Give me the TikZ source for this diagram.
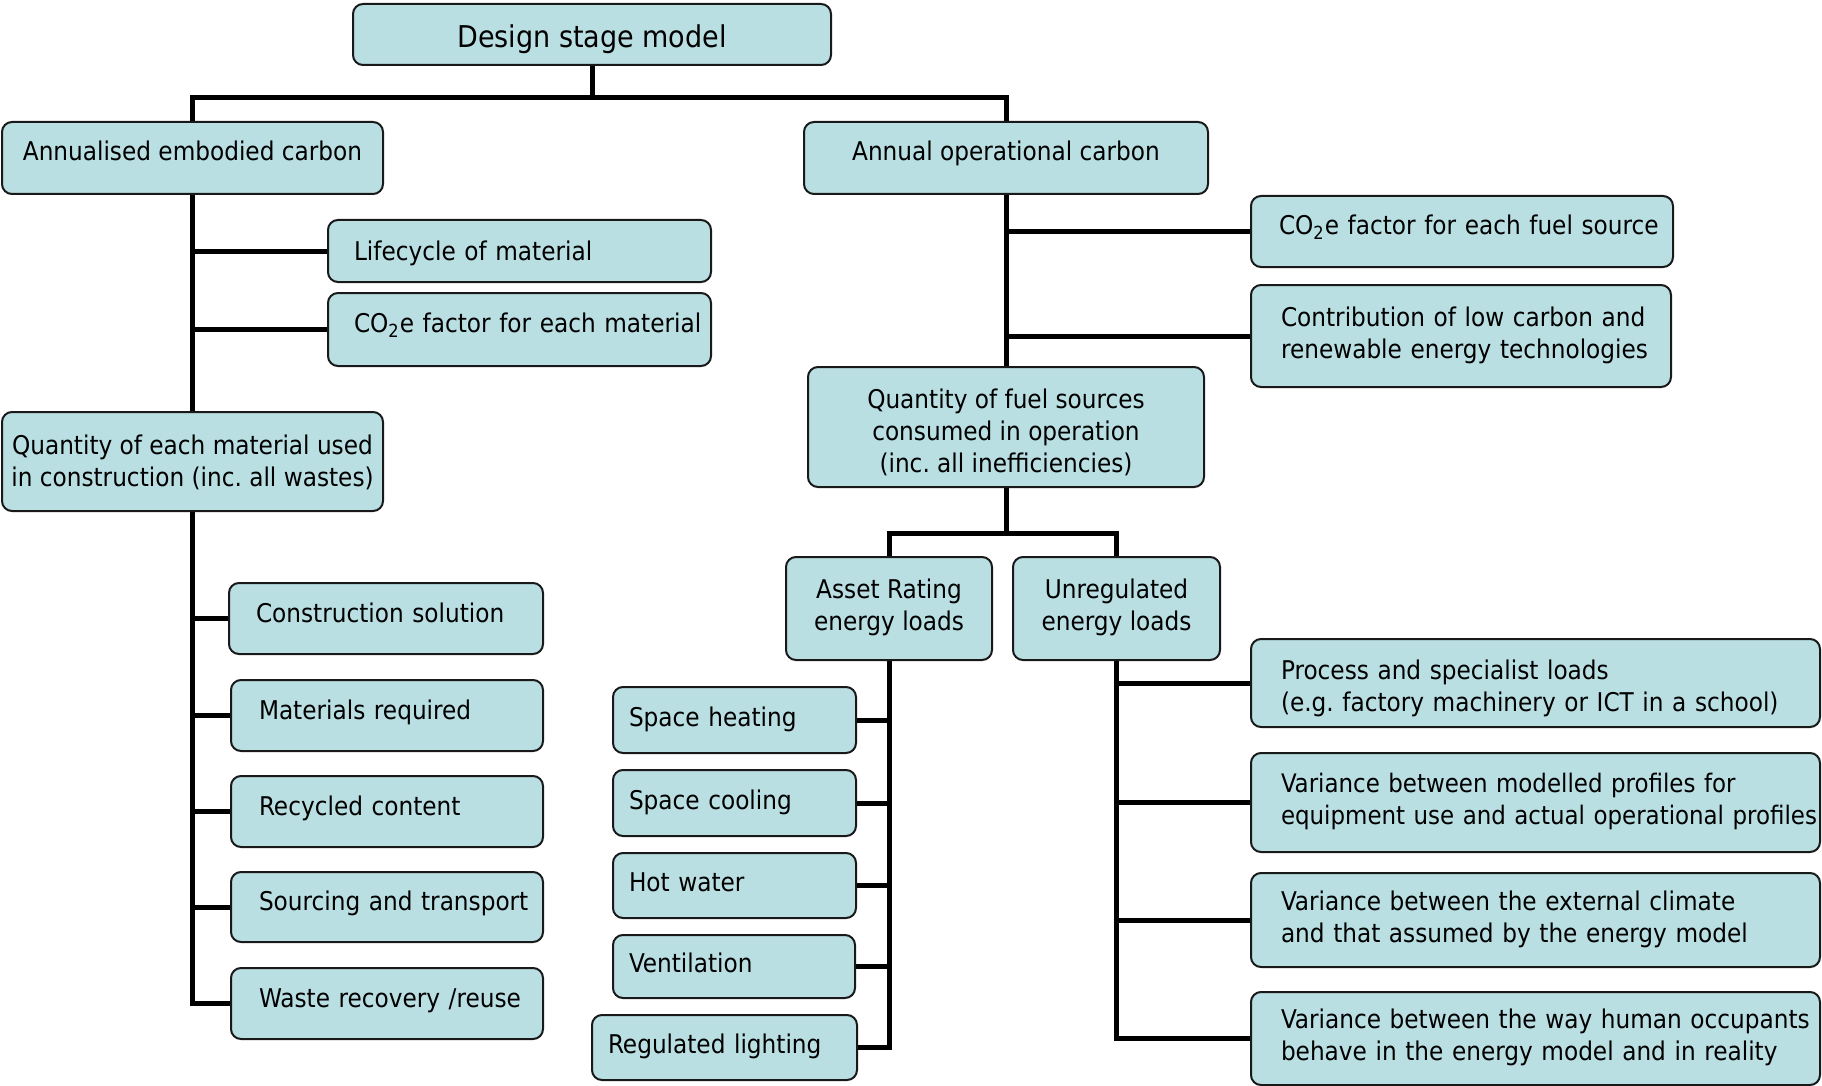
\documentclass[tikz,border=0pt]{standalone}
\usepackage{fontspec}
\setmainfont{DejaVu Sans Condensed}
\usetikzlibrary{backgrounds}

\definecolor{boxfill}{RGB}{185,223,227}
\definecolor{boxline}{RGB}{25,25,25}

% stacked lines of text, set as one unbreakable block
\newcommand\lines[2][l]{\begin{tabular}{@{}#1@{}}#2\end{tabular}}

% centred box: [options]{name}{x1}{y1}{x2}{y2}{text}
\newcommand\cbox[7][]{%
  \pgfmathsetmacro\boxW{(#5-#3)/2}%
  \pgfmathsetmacro\boxH{(#6-#4)/2}%
  \node[box,inner xsep=0pt,minimum width=\boxW pt,minimum height=\boxH pt,#1]
    (#2) at ({(#3+#5)/2},{(#4+#6)/2}) {\lines[c]{#7}};}

% box with left-set text: [options]{name}{x1}{y1}{x2}{y2}{left padding}{text}
\newcommand\lbox[8][]{%
  \pgfmathsetmacro\boxW{(#5-#3)/2}%
  \pgfmathsetmacro\boxH{(#6-#4)/2}%
  \pgfmathsetmacro\txtW{\boxW-#7}%
  \pgfmathsetmacro\padX{#7/2}%
  \node[box,align=left,inner xsep=\padX pt,text width=\txtW pt,minimum width=\boxW pt,minimum height=\boxH pt,#1]
    (#2) at ({(#3+#5)/2},{(#4+#6)/2}) {\lines{#8}};}

\newcommand\COtwo{CO\textsubscript{2}e}

\begin{document}
\frenchspacing
\begin{tikzpicture}[x=0.5pt,y=-0.5pt,
  box/.style={draw=boxline,line width=1pt,fill=boxfill,rounded corners=5pt,
    inner ysep=0pt,font=\fontsize{12.9}{16}\selectfont},
  % text height / depth of the text block, to set it higher or lower in its box
  textbox/.style 2 args={text height=#1,text depth=#2},
  link/.style={line width=2.5pt,draw=black}]

\useasboundingbox (0,0) rectangle (1822,1086);

% top of the tree
\cbox[font=\fontsize{15}{18}\selectfont,textbox={18.5pt}{5.25pt}]{dsm}{353}{4}{831}{65}{Design stage model}
\cbox[textbox={11.2pt}{8.8pt}]{emb}{2}{122}{383}{194}{Annualised embodied carbon}
\cbox[textbox={11.2pt}{8.8pt}]{op}{804}{122}{1208}{194}{Annual operational carbon}

% embodied carbon branch
\lbox[textbox={13.6pt}{4.8pt}]{lc}{328}{220}{711}{282}{26}{Lifecycle of material}
\lbox[textbox={11.2pt}{8.8pt}]{cm}{328}{293}{711}{366}{26}{\COtwo{} factor for each material}
\cbox[textbox={21.2pt}{12.8pt}]{qm}{2}{412}{383}{511}{Quantity of each material used\\in construction (inc. all wastes)}
\lbox[textbox={11.2pt}{7.8pt}]{cs}{229}{583}{543}{654}{27}{Construction solution}
\lbox[textbox={11.2pt}{7.8pt}]{mr}{231}{680}{543}{751}{28}{Materials required}
\lbox[textbox={11.2pt}{7.8pt}]{rc}{231}{776}{543}{847}{28}{Recycled content}
\lbox[textbox={11.2pt}{7.8pt}]{st}{231}{872}{543}{942}{28}{Sourcing and transport}
\lbox[textbox={11.2pt}{7.8pt}]{wr}{231}{968}{543}{1039}{28}{Waste recovery /reuse}

% operational carbon branch
\lbox[textbox={11.2pt}{8.8pt}]{cf}{1251}{196}{1673}{267}{28}{\COtwo{} factor for each fuel source}
\lbox{lr}{1251}{285}{1671}{387}{30}{Contribution of low carbon and\\renewable energy technologies}
\cbox[textbox={34.2pt}{20.8pt}]{qf}{808}{367}{1204}{487}{Quantity of fuel sources\\consumed in operation\\(inc. all inefficiencies)}
\cbox{ar}{786}{557}{992}{660}{Asset Rating\\energy loads}
\cbox{ur}{1013}{557}{1220}{660}{Unregulated\\energy loads}

% regulated loads
\lbox{sh}{613}{687}{856}{753}{16}{Space heating}
\lbox{sc}{613}{770}{856}{836}{16}{Space cooling}
\lbox{hw}{613}{853}{856}{918}{16}{Hot water}
\lbox{vt}{613}{935}{855}{998}{16}{Ventilation}
\lbox{rl}{592}{1015}{857}{1080}{16}{Regulated lighting}

% unregulated loads
\lbox[textbox={25.2pt}{12.8pt}]{ps}{1251}{639}{1820}{727}{30}{Process and specialist loads\\(e.g. factory machinery or ICT in a school)}
\lbox[font=\fontsize{12.75}{16}\selectfont]{vm}{1251}{753}{1820}{852}{30}{Variance between modelled profiles for\\equipment use and actual operational profiles}
\lbox{vc}{1251}{873}{1820}{967}{30}{Variance between the external climate\\and that assumed by the energy model}
\lbox{vh}{1251}{992}{1820}{1085}{30}{Variance between the way human occupants\\behave in the energy model and in reality}

% connectors, kept behind the boxes
\begin{pgfonlayer}{background}
  \fill[white] (0,0) rectangle (1822,1086);
  \coordinate (tj) at (592,98);
  \draw[link] (dsm.south) -- (tj);
  \draw[link] (emb.north) |- (tj) -| (op.north);

  \draw[link] (emb.south) -- (qm.north);
  \foreach \n in {lc,cm} \draw[link] (\n.west) -- (\n.west -| emb.south);
  \draw[link] (qm.south) |- (wr.west);
  \foreach \n in {cs,mr,rc,st} \draw[link] (\n.west) -- (\n.west -| qm.south);

  \draw[link] (op.south) -- (qf.north);
  \foreach \n in {cf,lr} \draw[link] (\n.west) -- (\n.west -| op.south);
  \path (qf.south) ++(0,45) coordinate (fj);
  \draw[link] (qf.south) -- (fj);
  \draw[link] (ar.north) |- (fj) -| (ur.north);

  \draw[link] (ar.south) |- (rl.east);
  \foreach \n in {sh,sc,hw,vt} \draw[link] (\n.east) -- (\n.east -| ar.south);
  \draw[link] (ur.south) |- (vh.west);
  \foreach \n in {ps,vm,vc} \draw[link] (\n.west) -- (\n.west -| ur.south);
\end{pgfonlayer}
\end{tikzpicture}
\end{document}
